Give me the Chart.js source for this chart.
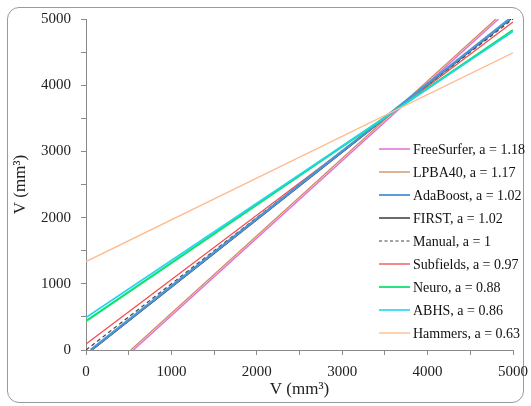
<!DOCTYPE html>
<html>
<head>
<meta charset="utf-8">
<script src="https://cdn.jsdelivr.net/npm/chart.js@4/dist/chart.umd.min.js"></script>
<style>
  html, body { margin: 0; padding: 0; background: #fff; }
  #wrap { position: relative; width: 531px; height: 406px; }
  #frame {
    position: absolute; left: 7px; top: 7px; width: 517px; height: 396px;
    border: 1px solid #9a9a9a; border-radius: 12px; box-sizing: border-box;
  }
  canvas { position: absolute; left: 0; top: 0; }
</style>
</head>
<body>
<div id="wrap">
  <div id="frame"></div>
  <canvas id="chart" width="531" height="406"></canvas>
</div>
<script>
const seriesNames = ['FreeSurfer', 'LPBA40', 'AdaBoost', 'FIRST', 'Manual',
                     'Subfields', 'Neuro', 'ABHS', 'Hammers'];
const slopes = ['1.18', '1.17', '1.02', '1.02', '1', '0.97', '0.88', '0.86', '0.63'];
const startX = [555, 525, 55, 70, 0, 0, 0, 0, 0];
const startY = [0, 0, 0, 0, 0, 90, 435, 490, 1335];
const endX   = [4830, 4800, 4960, 4975, 5000, 5000, 5000, 5000, 5000];
const endY   = [5000, 5000, 5000, 5000, 5000, 4955, 4830, 4810, 4490];
const xTicks = [0, 1000, 2000, 3000, 4000, 5000];
const yTicks = [0, 1000, 2000, 3000, 4000, 5000];

const lineColors = ['#e26fd6', '#d08a5c', '#4a94d8', '#1a1a1a', '#444444',
                    '#f24a4a', '#14e070', '#22d4f2', '#ffbb8e'];
const lineWidths = [1.5, 1.3, 2.5, 1.3, 1.2, 1.3, 2.2, 1.6, 1.4];

const drawOrder = [8, 7, 6, 2, 1, 0, 5, 3, 4]; // back to front

const datasets = drawOrder.map(i => ({
  label: `${seriesNames[i]}, a = ${slopes[i]}`,
  data: [{ x: startX[i], y: startY[i] }, { x: endX[i], y: endY[i] }],
  borderColor: lineColors[i],
  borderWidth: lineWidths[i],
  borderDash: seriesNames[i] === 'Manual' ? [4, 3] : [],
  showLine: true,
  pointRadius: 0,
  fill: false
}));

// Legend drawn inside the plot area, like the original
const insideLegend = {
  id: 'insideLegend',
  afterDraw(chart) {
    const ctx = chart.ctx;
    ctx.save();
    ctx.font = '14px "Liberation Serif", "Times New Roman", serif';
    ctx.textBaseline = 'middle';
    ctx.fillStyle = '#111';
    for (let i = 0; i < seriesNames.length; i++) {
      const y = 149 + i * 23;
      ctx.beginPath();
      ctx.strokeStyle = lineColors[i];
      ctx.lineWidth = Math.min(lineWidths[i], 1.8);
      ctx.setLineDash(seriesNames[i] === 'Manual' ? [3, 2.5] : []);
      ctx.moveTo(379, y);
      ctx.lineTo(410, y);
      ctx.stroke();
      ctx.setLineDash([]);
      ctx.fillText(`${seriesNames[i]}, a = ${slopes[i]}`, 413, y + 1);
    }
    ctx.restore();
  }
};

const tickFont = { family: '"Liberation Serif", "Times New Roman", serif', size: 15 };
const titleFont = { family: '"Liberation Serif", "Times New Roman", serif', size: 17 };

new Chart(document.getElementById('chart'), {
  type: 'scatter',
  data: { datasets },
  options: {
    responsive: false,
    animation: false,
    layout: { padding: { left: 10, right: 18, top: 19, bottom: 6 } },
    scales: {
      x: {
        type: 'linear', min: 0, max: 5000,
        border: { color: '#8a8a8a', width: 1 },
        grid: { drawOnChartArea: false, drawTicks: true, tickLength: 5, color: '#8a8a8a' },
        ticks: {
          stepSize: 500, color: '#222', font: tickFont, maxRotation: 0, padding: 8,
          callback: v => xTicks.includes(v) ? String(v) : ''
        },
        title: { display: true, text: 'V (mm³)', color: '#222', font: titleFont, padding: { top: 0, bottom: 0 } },
        afterFit: s => { s.height = 50; s.paddingLeft = 0; s.paddingRight = 0; }
      },
      y: {
        type: 'linear', min: 0, max: 5000,
        border: { color: '#8a8a8a', width: 1 },
        grid: { drawOnChartArea: false, drawTicks: true, tickLength: 5, color: '#8a8a8a' },
        ticks: {
          stepSize: 500, color: '#222', font: tickFont, padding: 10,
          callback: v => yTicks.includes(v) ? String(v) : ''
        },
        title: { display: true, text: 'V (mm³)', color: '#222', font: titleFont, padding: { top: 0, bottom: 0 } },
        afterFit: s => { s.width = 76; s.paddingTop = 0; s.paddingBottom = 0; }
      }
    },
    plugins: {
      legend: { display: false },
      tooltip: { enabled: false }
    }
  },
  plugins: [insideLegend]
});
</script>
</body>
</html>
